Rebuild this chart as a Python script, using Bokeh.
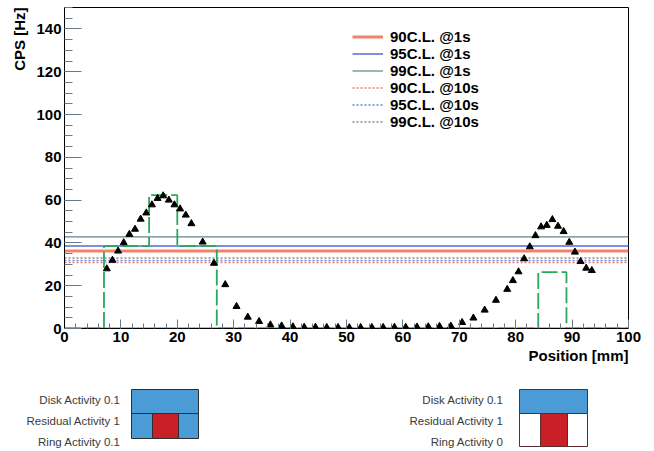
import numpy as np
from bokeh.plotting import figure
from bokeh.models import Range1d, FixedTicker, Legend, LegendItem, Title
from bokeh.layouts import column
from bokeh.embed import file_html
from bokeh.resources import INLINE
from bokeh.core.properties import value

# ---------------- data ----------------
pos = [7.5, 8.5, 9.5, 10.5, 11.5, 12.5, 13.5, 14.5, 15.5, 16.5, 17.5, 18.5, 19.5,
       20.5, 21.5, 22.5, 24.5, 26.5, 28.5, 30.5, 32.5, 34.5, 36.5, 38.5, 40.5,
       42.5, 44.5, 46.5, 48.5, 50.5, 52.5, 54.5, 56.5, 58.5, 60.5, 62.5, 64.5,
       66.5, 68.5, 70.5, 72.5, 74.5, 76.5, 78.5, 79.5, 80.5, 81.5, 82.5, 83.5,
       84.5, 85.5, 86.5, 87.5, 88.5, 89.5, 90.5, 91.5, 92.5, 93.5]
cps = [27.9, 31.9, 36.2, 40.1, 44.0, 46.4, 51.1, 54.0, 57.8, 60.8, 62.0, 60.0, 57.8,
       55.9, 53.0, 49.0, 40.4, 30.5, 20.5, 10.3, 5.3, 3.3, 1.7, 1.2, 0.8,
       0.6, 0.6, 0.5, 0.5, 0.4, 0.5, 0.5, 0.5, 0.6, 0.6, 0.7, 0.8,
       1.0, 1.1, 2.8, 4.9, 8.6, 13.2, 18.3, 22.4, 26.5, 32.6, 38.2, 43.4,
       47.5, 48.2, 50.9, 47.8, 45.3, 40.3, 35.7, 31.3, 28.2, 27.1]

hist_edges = [0, 7, 15, 20, 27, 84, 89, 100]
hist_vals = [0, 38.5, 62.3, 38.5, 0, 26.3, 0]

cl_labels = ["90C.L. @1s", "95C.L. @1s", "99C.L. @1s",
             "90C.L. @10s", "95C.L. @10s", "99C.L. @10s"]
cl_values = [36.2, 38.6, 42.8, 30.8, 31.8, 33.0]

x_ticks = list(range(0, 101, 10))
x_minor = list(range(0, 101, 2))
y_ticks = list(range(0, 141, 20))
y_minor = list(range(0, 151, 5))

x_title = "Position [mm]"
y_title = "CPS [Hz]"

disk_activity = [0.1, 0.1]
residual_activity = [1, 1]
ring_activity = [0.1, 0]

# ---------------- styles ----------------
cl_colors = ["#f4826a", "#7f8ee0", "#5e8487", "#f07878", "#6f82e6", "#8a8a8a"]
cl_widths = [3, 2, 1.2, 1.5, 1.5, 1.5]
cl_dashes = ["solid", "solid", "solid", "2 2", "2 2", "2 2"]
FONT = "Liberation Sans"
TICK_COL = "#6b7a84"
MAIN_H = 370

p = figure(width=654, height=MAIN_H, x_range=Range1d(0, 100), y_range=Range1d(0, 150),
           output_backend="svg", toolbar_location=None,
           min_border_left=64, min_border_right=26, min_border_top=7,
           min_border_bottom=MAIN_H - 7 - 321)
p.xgrid.visible = False
p.ygrid.visible = False
p.outline_line_color = "black"
p.outline_line_width = 1
p.background_fill_color = "white"
p.border_fill_color = "white"

p.xaxis.ticker = FixedTicker(ticks=x_ticks, minor_ticks=x_minor)
p.yaxis.ticker = FixedTicker(ticks=y_ticks, minor_ticks=y_minor)
for ax in (p.xaxis[0], p.yaxis[0]):
    ax.major_tick_out = 0
    ax.minor_tick_out = 0
    ax.major_tick_line_color = TICK_COL
    ax.minor_tick_line_color = TICK_COL
    ax.axis_line_color = "black"
    ax.major_label_text_font = FONT
    ax.major_label_text_font_style = "bold"
    ax.major_label_text_font_size = "15px"
    ax.major_label_text_color = "black"
    ax.major_label_standoff = 3
p.xaxis.major_tick_in = 9
p.xaxis.minor_tick_in = 5
p.yaxis.major_tick_in = 17
p.yaxis.minor_tick_in = 8

for side, t, so in (("below", x_title, 0), ("left", y_title, 12)):
    p.add_layout(Title(text=t, align="right", text_font=FONT, text_font_style="bold",
                       text_font_size="15px", text_color="black", standoff=so), side)

x_span = [x_ticks[0], x_ticks[-1]]
items = []
for lab, v, c, w, d in zip(cl_labels, cl_values, cl_colors, cl_widths, cl_dashes):
    r = p.line(x=x_span, y=[v, v], line_color=c, line_width=w, line_dash=d)
    items.append(LegendItem(label=lab, renderers=[r]))

# histogram outline
hx, hy = [], []
for i, v in enumerate(hist_vals):
    hx += [hist_edges[i], hist_edges[i + 1]]
    hy += [v, v]
p.line(x=[hist_edges[0], hist_edges[-1]], y=[0, 0], line_color="#2aa85a", line_width=2)
p.line(x=hx, y=hy, line_color="#2aa85a", line_width=1.8, line_dash="16 4")

p.scatter(x=pos, y=cps, marker="triangle", size=7, fill_color="black", line_color="black")

legend = Legend(items=items, location=(288, 198))
legend.border_line_color = None
legend.background_fill_alpha = 0
legend.padding = 0
legend.margin = 0
legend.spacing = 0
legend.glyph_width = 31
legend.glyph_height = 17
legend.label_height = 17
legend.label_standoff = 7
legend.label_text_font = FONT
legend.label_text_font_style = "bold"
legend.label_text_font_size = "15px"
legend.label_text_color = "black"
p.add_layout(legend)

# ---------------- bottom schematic diagrams ----------------
q = figure(width=654, height=451 - MAIN_H, x_range=Range1d(0, 654), y_range=Range1d(451, MAIN_H),
           output_backend="svg", toolbar_location=None, min_border=0,
           x_axis_location=None, y_axis_location=None)
q.xgrid.visible = False
q.ygrid.visible = False
q.outline_line_color = None
for fig in (p, q):
    if "frame_align" in fig.properties():
        fig.frame_align = False

boxes = [dict(x0=131, x1=198, r0=152, r1=178, y0=389, ym=413, y1=438, tx=120, border="#2e2e2e"),
         dict(x0=519, x1=587, r0=540, r1=567, y0=389, ym=413, y1=446, tx=503, border="#5c2a2a")]


def act_color(a):
    if a >= 1:
        return "#c91f27"
    if a > 0:
        return "#4a9bd6"
    return "white"


for b, da, ra, ga in zip(boxes, disk_activity, residual_activity, ring_activity):
    q.quad(left=[b["x0"]], right=[b["x1"]], top=[b["y0"]], bottom=[b["ym"]],
           fill_color=act_color(da), line_color=b["border"], line_width=1)
    q.quad(left=[b["x0"], b["r1"]], right=[b["r0"], b["x1"]], top=[b["ym"]] * 2,
           bottom=[b["y1"]] * 2, fill_color=act_color(ga), line_color=b["border"], line_width=1)
    q.quad(left=[b["r0"]], right=[b["r1"]], top=[b["ym"]], bottom=[b["y1"]],
           fill_color=act_color(ra), line_color=b["border"], line_width=1)
    q.text(x=[b["tx"]] * 3, y=[399, 420, 441],
           text=[f"Disk Activity {da}", f"Residual Activity {ra}", f"Ring Activity {ga}"],
           text_align="right", text_baseline="middle", text_font=value(FONT),
           text_font_size="11.5px", text_color="#3a3a3a")

layout = column(p, q, spacing=0)
open("out.html", "w").write(file_html(layout, INLINE))
